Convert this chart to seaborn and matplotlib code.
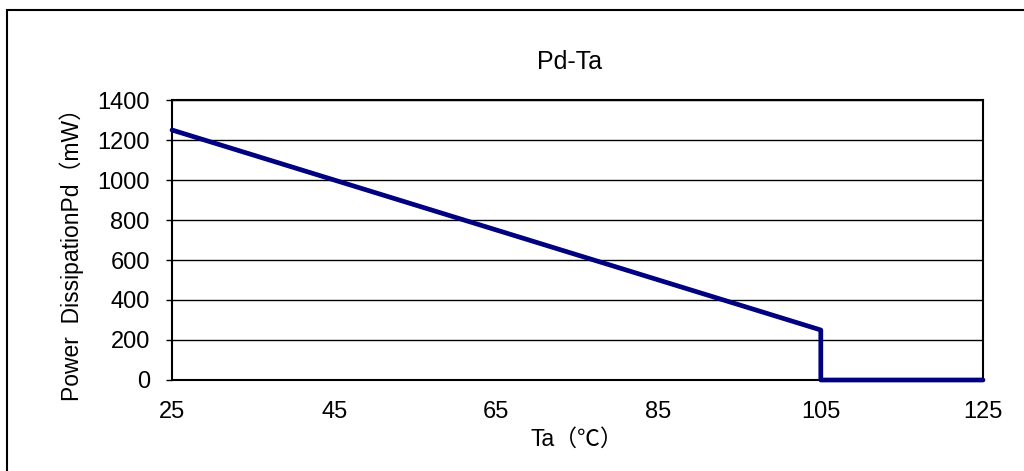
import matplotlib
matplotlib.use("Agg")
import matplotlib.pyplot as plt
import matplotlib.patches as mpatches
import seaborn as sns
import pandas as pd

# Data
ta = [25, 105, 105, 125]
pd_mw = [1250, 250, 0, 0]
x_ticks = [25, 45, 65, 85, 105, 125]
y_ticks = [0, 200, 400, 600, 800, 1000, 1200, 1400]

title = "Pd-Ta"
xlabel = "Ta（℃）"
ylabel = "Power  DissipationPd（mW）"

sns.set_theme(style="white")
plt.rcParams['font.family'] = ['Liberation Sans', 'Noto Sans CJK SC', 'DejaVu Sans']
plt.rcParams['text.color'] = 'black'

df = pd.DataFrame({"Ta": ta, "Pd": pd_mw})

fig = plt.figure(figsize=(10.24, 4.71), dpi=100)
fig.patch.set_facecolor("white")
ax = fig.add_axes([172/1024, 1-380/471, (983-172)/1024, (380-100)/471])

sns.lineplot(data=df, x="Ta", y="Pd", sort=False, estimator=None,
             color="#000080", linewidth=3.4, ax=ax, zorder=5, clip_on=False)

ax.set_xlim(25, 125)
ax.set_ylim(0, 1400)
ax.set_xticks(x_ticks)
ax.set_yticks(y_ticks)
ax.set_xticklabels([str(v) for v in x_ticks])
ax.set_yticklabels([str(v) for v in y_ticks])
ax.grid(axis="y", color="black", linewidth=1.0)
ax.grid(axis="x", visible=False)
ax.set_axisbelow(True)
for s in ax.spines.values():
    s.set_color("black")
    s.set_linewidth(1.5)
ax.tick_params(axis="x", length=0, pad=15, labelsize=17, colors="black", labelcolor="black")
ax.tick_params(axis="y", length=4, width=1, pad=12, labelsize=17, colors="black", labelcolor="black", left=True)
ax.set_xlabel("")
ax.set_ylabel("")

fig.text(570/1024, 1-62/471, title, ha="center", va="center", fontsize=18, color="black")
fig.text(577/1024, 1-439/471, xlabel, ha="center", va="center", fontsize=16.5, color="black")
fig.text(72/1024, 1-249/471, ylabel, ha="center", va="center", rotation=90, fontsize=16.5, color="black")

border = mpatches.Rectangle((7/1024, -0.05), 1.1, 1-10/471+0.05, transform=fig.transFigure,
                            fill=False, edgecolor="black", linewidth=1.5)
fig.patches.append(border)

fig.savefig("out.png", dpi=100, facecolor="white")
